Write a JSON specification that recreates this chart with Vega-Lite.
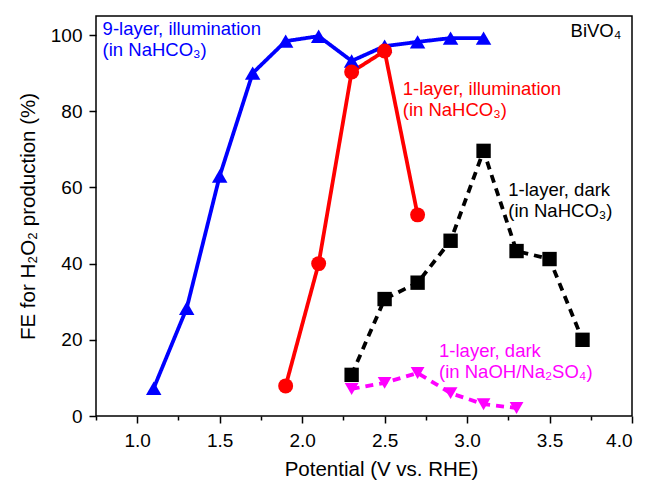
{
  "$schema": "https://vega.github.io/schema/vega-lite/v6.json",
  "width": 536,
  "height": 400,
  "autosize": {"type": "none"},
  "padding": {"left": 96, "top": 16, "right": 17, "bottom": 67},
  "background": "white",
  "config": {
    "view": {"stroke": "black", "strokeWidth": 1.5},
    "font": "Liberation Sans",
    "axis": {
      "domain": false,
      "grid": false,
      "tickColor": "black",
      "tickWidth": 1.5,
      "labelColor": "black",
      "labelFont": "Liberation Sans",
      "labelFontSize": 19,
      "titleFont": "Liberation Sans",
      "titleFontSize": 20.5,
      "titleFontWeight": "normal",
      "titleColor": "black"
    }
  },
  "datasets": {
    "pts": [
      {"series": "9L-illum", "x": 1.1, "y": 7.3},
      {"series": "9L-illum", "x": 1.3, "y": 28.3},
      {"series": "9L-illum", "x": 1.5, "y": 63},
      {"series": "9L-illum", "x": 1.7, "y": 90},
      {"series": "9L-illum", "x": 1.9, "y": 98.4},
      {"series": "9L-illum", "x": 2.1, "y": 99.7},
      {"series": "9L-illum", "x": 2.3, "y": 93.2},
      {"series": "9L-illum", "x": 2.5, "y": 97.1},
      {"series": "9L-illum", "x": 2.7, "y": 98.2},
      {"series": "9L-illum", "x": 2.9, "y": 99.2},
      {"series": "9L-illum", "x": 3.1, "y": 99.2},
      {"series": "1L-illum", "x": 1.9, "y": 7.9},
      {"series": "1L-illum", "x": 2.1, "y": 40},
      {"series": "1L-illum", "x": 2.3, "y": 90.3},
      {"series": "1L-illum", "x": 2.5, "y": 95.8},
      {"series": "1L-illum", "x": 2.7, "y": 52.8},
      {"series": "1L-dark-NaHCO3", "x": 2.3, "y": 10.8},
      {"series": "1L-dark-NaHCO3", "x": 2.5, "y": 30.7},
      {"series": "1L-dark-NaHCO3", "x": 2.7, "y": 35},
      {"series": "1L-dark-NaHCO3", "x": 2.9, "y": 46},
      {"series": "1L-dark-NaHCO3", "x": 3.1, "y": 69.6},
      {"series": "1L-dark-NaHCO3", "x": 3.3, "y": 43.3},
      {"series": "1L-dark-NaHCO3", "x": 3.5, "y": 41.2},
      {"series": "1L-dark-NaHCO3", "x": 3.7, "y": 20},
      {"series": "1L-dark-NaOH", "x": 2.3, "y": 7.1},
      {"series": "1L-dark-NaOH", "x": 2.5, "y": 8.7},
      {"series": "1L-dark-NaOH", "x": 2.7, "y": 11.3},
      {"series": "1L-dark-NaOH", "x": 2.9, "y": 6},
      {"series": "1L-dark-NaOH", "x": 3.1, "y": 3.1},
      {"series": "1L-dark-NaOH", "x": 3.3, "y": 2.1}
    ],
    "labels": [
      {"x": 0.79, "y": 100.0, "text": "9-layer, illumination\n(in NaHCO₃)", "c": "blue"},
      {"x": 2.61, "y": 84.3, "text": "1-layer, illumination\n(in NaHCO₃)", "c": "red"},
      {"x": 3.25, "y": 57.7, "text": "1-layer, dark\n(in NaHCO₃)", "c": "black"},
      {"x": 2.83, "y": 15.5, "text": "1-layer, dark\n(in NaOH/Na₂SO₄)", "c": "magenta"}
    ]
  },
  "layer": [
    {
      "data": {"name": "pts"},
      "mark": {"type": "line", "strokeWidth": 3.8},
      "encoding": {
        "x": {
          "field": "x", "type": "quantitative",
          "scale": {"domain": [0.75, 4.0], "nice": false, "zero": false},
          "axis": {
            "title": "Potential (V vs. RHE)",
            "values": [0.75, 1, 1.25, 1.5, 1.75, 2, 2.25, 2.5, 2.75, 3, 3.25, 3.5, 3.75, 4],
            "labelExpr": "round(datum.value*2) == datum.value*2 ? format(datum.value, '.1f') : ''",
            "tickSize": {"condition": {"test": "round(datum.value*2) == datum.value*2", "value": 7}, "value": 4},
            "labelPadding": 8,
            "titlePadding": 9,
            "titleX": 285
          }
        },
        "y": {
          "field": "y", "type": "quantitative",
          "scale": {"domain": [0, 105], "nice": false},
          "axis": {
            "title": "FE for H₂O₂ production (%)",
            "values": [0, 10, 20, 30, 40, 50, 60, 70, 80, 90, 100],
            "labelExpr": "datum.value % 20 === 0 ? datum.label : ''",
            "tickSize": {"condition": {"test": "datum.value % 20 === 0", "value": 7}, "value": 4},
            "labelPadding": 7,
            "titlePadding": 12
          }
        },
        "color": {
          "field": "series", "type": "nominal",
          "scale": {"domain": ["9L-illum", "1L-illum", "1L-dark-NaHCO3", "1L-dark-NaOH"], "range": ["#0000ff", "#ff0000", "#000000", "#ff00ff"]},
          "legend": null
        },
        "strokeDash": {
          "field": "series", "type": "nominal",
          "scale": {"domain": ["9L-illum", "1L-illum", "1L-dark-NaHCO3", "1L-dark-NaOH"], "range": [[1, 0], [1, 0], [8, 6], [8, 6]]},
          "legend": null
        },
        "detail": {"field": "series"}
      }
    },
    {
      "data": {"name": "pts"},
      "mark": {"type": "point", "filled": true, "opacity": 1},
      "encoding": {
        "x": {"field": "x", "type": "quantitative"},
        "y": {"field": "y", "type": "quantitative"},
        "color": {"field": "series", "type": "nominal", "legend": null},
        "shape": {
          "field": "series", "type": "nominal",
          "scale": {"domain": ["9L-illum", "1L-illum", "1L-dark-NaHCO3", "1L-dark-NaOH"], "range": ["triangle-up", "circle", "square", "triangle-down"]},
          "legend": null
        },
        "size": {
          "field": "series", "type": "nominal",
          "scale": {"domain": ["9L-illum", "1L-illum", "1L-dark-NaHCO3", "1L-dark-NaOH"], "range": [240, 190, 140, 250]},
          "legend": null
        }
      }
    },
    {
      "data": {"name": "labels"},
      "mark": {"type": "text", "fontSize": 18.5, "align": "left", "baseline": "alphabetic", "lineBreak": "\n", "lineHeight": 21, "font": "Liberation Sans"},
      "encoding": {
        "x": {"field": "x", "type": "quantitative"},
        "y": {"field": "y", "type": "quantitative"},
        "text": {"field": "text"},
        "color": {"field": "c", "type": "nominal", "scale": null}
      }
    },
    {
      "data": {"values": [{"x": 3.935, "y": 99.5, "text": "BiVO₄"}]},
      "mark": {"type": "text", "fontSize": 18.5, "align": "right", "baseline": "alphabetic", "color": "black", "font": "Liberation Sans"},
      "encoding": {
        "x": {"field": "x", "type": "quantitative"},
        "y": {"field": "y", "type": "quantitative"},
        "text": {"field": "text"}
      }
    }
  ]
}
